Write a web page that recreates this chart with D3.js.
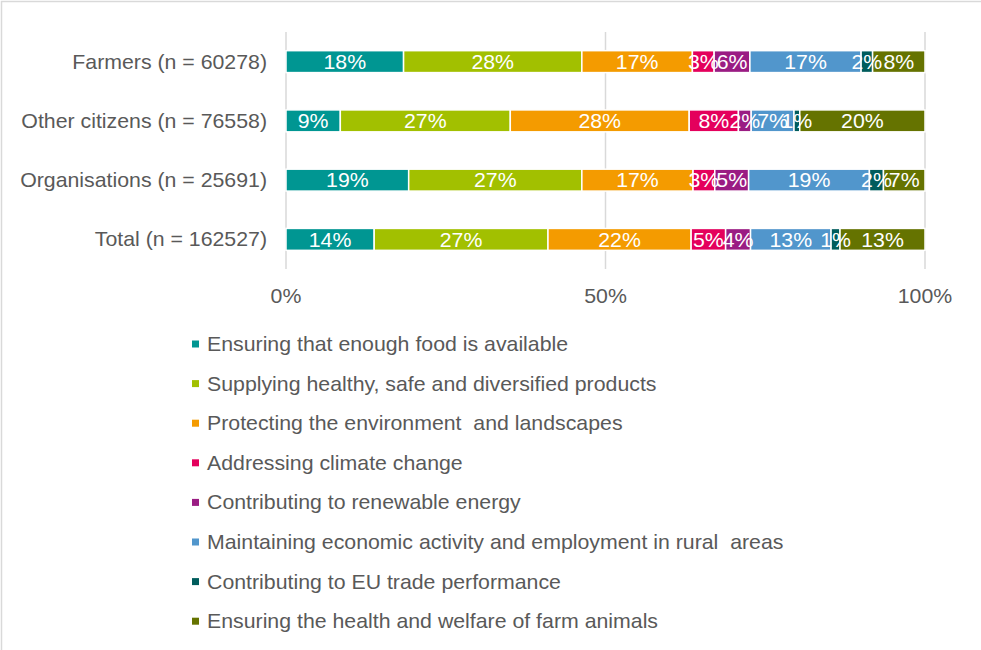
<!DOCTYPE html>
<html>
<head>
<meta charset="utf-8">
<style>
  body { margin: 0; background: #fff; }
  svg text { font-family: "Liberation Sans", Arial, sans-serif; white-space: pre; }
</style>
</head>
<body>
<div id="container"></div>
<script src="https://cdn.jsdelivr.net/npm/d3@7"></script>
<script>
// groups, top to bottom
const groups = ["Farmers (n = 60278)", "Other citizens (n = 76558)", "Organisations (n = 25691)", "Total (n = 162527)"];

// objectives (stack order, left to right)
const objectives = [
  "Ensuring that enough food is available",
  "Supplying healthy, safe and diversified products",
  "Protecting the environment  and landscapes",
  "Addressing climate change",
  "Contributing to renewable energy",
  "Maintaining economic activity and employment in rural  areas",
  "Contributing to EU trade performance",
  "Ensuring the health and welfare of farm animals"
];

// shares in % per group, same order as objectives
const farmers       = [18.4, 27.9, 17.3, 3.4, 5.6, 17.4, 1.8, 8.2];
const otherCitizens = [8.5, 26.6, 28.0, 7.7, 2.0, 6.7, 0.9, 19.6];
const organisations = [19.2, 27.1, 17.4, 3.4, 5.3, 18.9, 2.2, 6.5];
const total         = [13.8, 27.2, 22.4, 5.4, 3.9, 12.6, 1.4, 13.3];

const xTicks = [0, 50, 100];

const colors = ["#009692", "#a2c000", "#f49b00", "#e4005c", "#9a1c83", "#5196cc", "#005c5c", "#657300"];

const values = [farmers, otherCitizens, organisations, total];

// text in the original is a bit wider than Liberation Sans
const stretch = 1.065;

const svg = d3.select("#container")
  .append("svg")
  .attr("width", 981)
  .attr("height", 650);

// outer frame (top and left edges visible)
svg.append("path")
  .attr("d", "M1.5,650 V1.5 H981")
  .attr("fill", "none")
  .attr("stroke", "#d9d9d9")
  .attr("stroke-width", 1.5);

const x = d3.scaleLinear().domain([0, 100]).range([286, 925]);
const y = d3.scaleBand().domain(groups).range([32, 269]).paddingInner(0.63).paddingOuter(0.315);

// gridlines
svg.append("g")
  .selectAll("line")
  .data(xTicks)
  .join("line")
  .attr("x1", d => x(d))
  .attr("x2", d => x(d))
  .attr("y1", 32)
  .attr("y2", 269)
  .attr("stroke", "#d9d9d9")
  .attr("stroke-width", 1.5);

// tick labels
svg.append("g")
  .selectAll("text")
  .data(xTicks)
  .join("text")
  .attr("transform", d => `translate(${x(d)},303) scale(${stretch},1)`)
  .attr("text-anchor", "middle")
  .attr("font-size", 20)
  .attr("fill", "#595959")
  .text(d => d + "%");

// category labels
svg.append("g")
  .selectAll("text")
  .data(groups)
  .join("text")
  .attr("transform", d => `translate(267,${y(d) + y.bandwidth() / 2}) scale(${stretch},1)`)
  .attr("dy", "0.35em")
  .attr("text-anchor", "end")
  .attr("font-size", 20)
  .attr("fill", "#595959")
  .text(d => d);

// stacked segments
const rows = groups.map((g, i) => {
  let acc = 0;
  return values[i].map((v, j) => {
    const seg = { group: g, k: j, v: v, x0: acc, x1: acc + v };
    acc += v;
    return seg;
  });
});

const barG = svg.append("g");
rows.forEach(row => {
  barG.selectAll(null)
    .data(row)
    .join("rect")
    .attr("x", d => x(d.x0))
    .attr("y", d => y(d.group))
    .attr("width", d => x(d.x1) - x(d.x0))
    .attr("height", y.bandwidth())
    .attr("fill", d => colors[d.k])
    .attr("stroke", "#fff")
    .attr("stroke-width", 1.5);
});
rows.forEach(row => {
  barG.selectAll(null)
    .data(row)
    .join("text")
    .attr("transform", d => `translate(${(x(d.x0) + x(d.x1)) / 2},${y(d.group) + y.bandwidth() / 2}) scale(${stretch},1)`)
    .attr("dy", "0.36em")
    .attr("text-anchor", "middle")
    .attr("font-size", 20)
    .attr("fill", "#fff")
    .text(d => Math.round(d.v) + "%");
});

// legend
const legend = svg.append("g")
  .selectAll("g")
  .data(objectives)
  .join("g")
  .attr("transform", (d, i) => `translate(192, ${344 + i * 39.6})`);

legend.append("rect")
  .attr("x", 0)
  .attr("y", -3.5)
  .attr("width", 7)
  .attr("height", 7)
  .attr("fill", (d, i) => colors[i]);

legend.append("text")
  .attr("transform", `translate(15,0) scale(${stretch},1)`)
  .attr("dy", "0.35em")
  .attr("font-size", 20)
  .attr("fill", "#595959")
  .text(d => d);
</script>
</body>
</html>
